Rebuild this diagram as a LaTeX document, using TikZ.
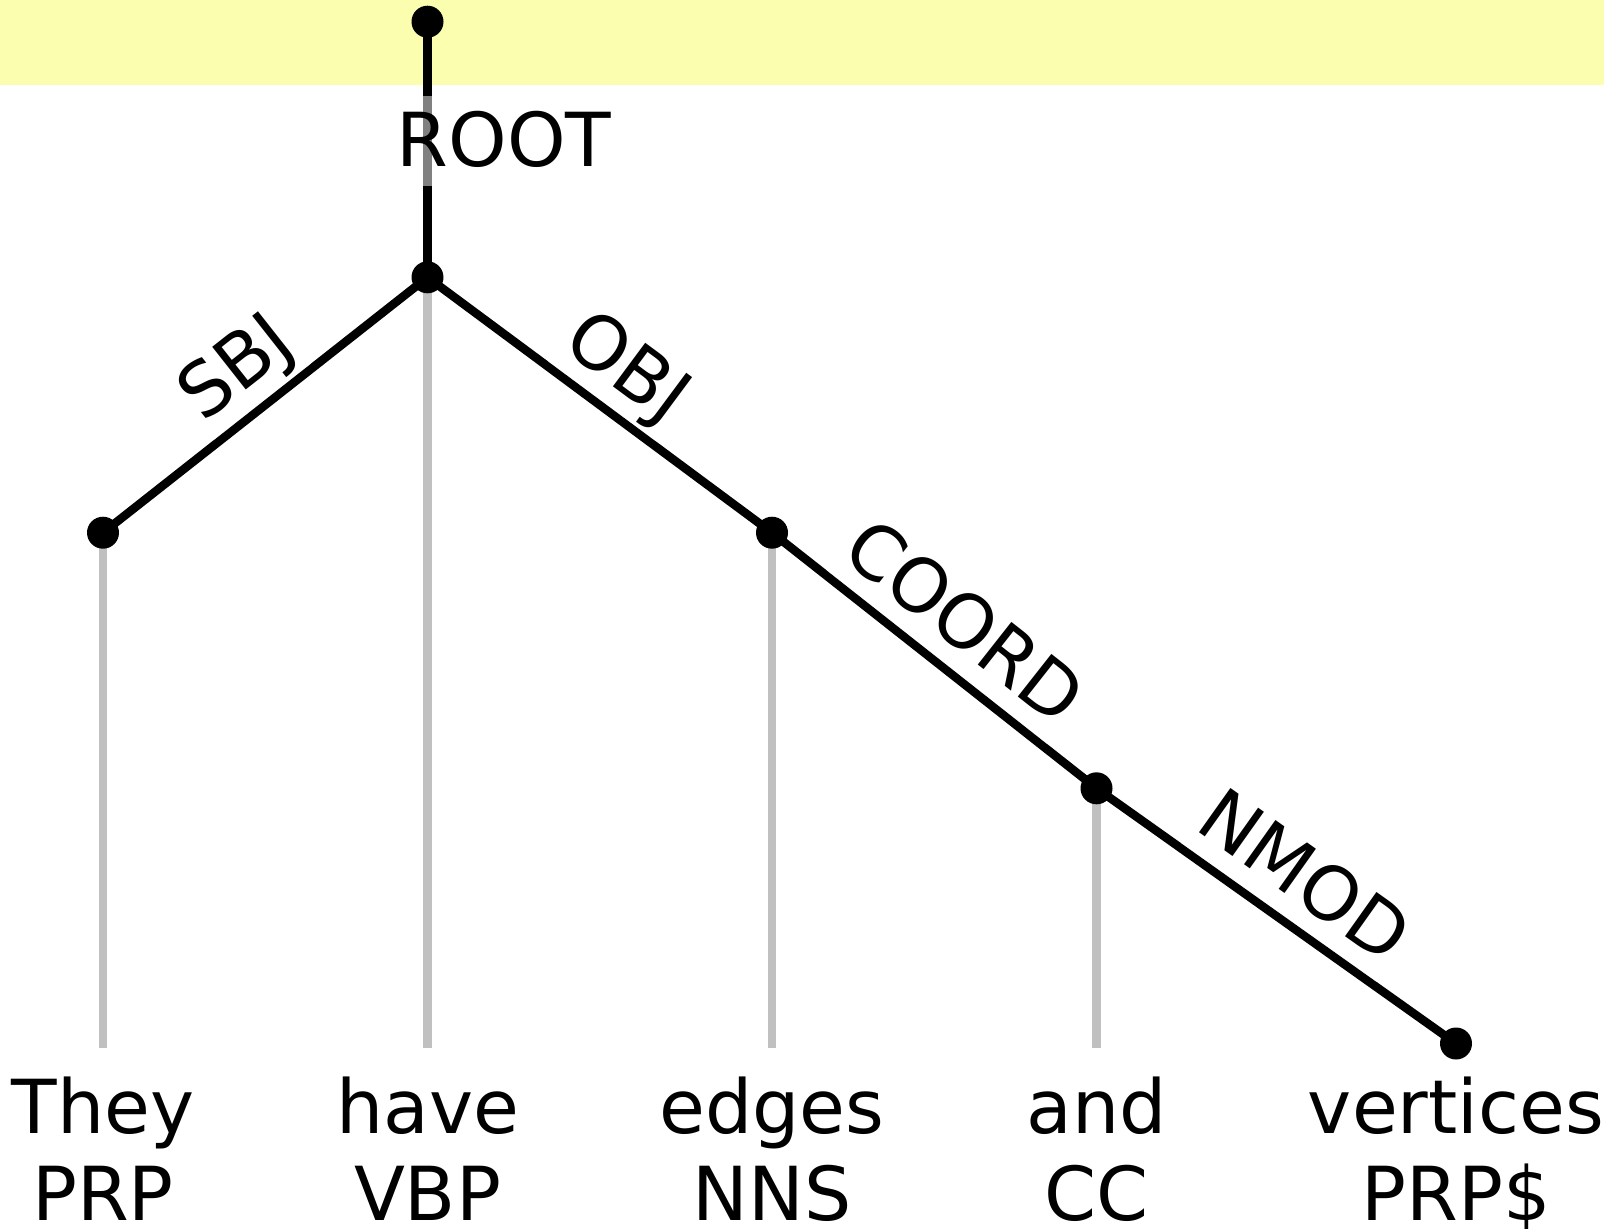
\documentclass[tikz,border=0pt]{standalone}
\usepackage{fontspec}
\setmainfont{DejaVu Sans}
\definecolor{band}{RGB}{250,254,174}
\definecolor{proj}{RGB}{192,192,192}
\begin{document}
\begin{tikzpicture}[x=1pt,y=-1pt,
  dot/.style={circle,fill=black,inner sep=0pt,minimum size=32pt},
  edge/.style={draw=black,line width=8.5pt},
  projline/.style={draw=proj,line width=8.5pt},
  lab/.style={fill=white,fill opacity=0.5,text opacity=1,inner sep=1.5pt,
    text height=69pt,text depth=17.5pt,font=\fontsize{74.5}{88}\selectfont},
  word/.style={anchor=base,inner sep=0pt,font=\fontsize{74.5}{88}\selectfont}]
\fill[band] (0,0) rectangle (1604,85);
\useasboundingbox (0,0) rectangle (1604,1229);
% coordinates
\coordinate (c0) at (427.5,21.7);
\coordinate (c1) at (103,532.7);
\coordinate (c2) at (427.5,277.3);
\coordinate (c3) at (772,532.7);
\coordinate (c4) at (1096.5,788.3);
\coordinate (c5) at (1456,1043.5);
\coordinate (b1) at (103,1048);
\coordinate (b2) at (427.5,1048);
\coordinate (b3) at (772,1048);
\coordinate (b4) at (1096.5,1048);
% projection lines
\draw[projline] (c1) -- (b1);
\draw[projline] (c2) -- (b2);
\draw[projline] (c3) -- (b3);
\draw[projline] (c4) -- (b4);
% edges
\draw[edge] (c0) -- (c2);
\draw[edge] (c1) -- node[lab,sloped,above] (sbj) {SBJ} (c2);
\draw[edge] (c2) -- node[lab,sloped,above] (obj) {OBJ} (c3);
\draw[edge] (c3) -- node[lab,sloped,above] (coord) {COORD} (c4);
\draw[edge] (c4) -- node[lab,sloped,above] (nmod) {NMOD} (c5);
\node[lab,anchor=base] (root) at (504,166.7) {ROOT};
% dots
\node[dot] (d0) at (c0) {};
\node[dot] (d1) at (c1) {};
\node[dot] (d2) at (c2) {};
\node[dot] (d3) at (c3) {};
\node[dot] (d4) at (c4) {};
\node[dot] (d5) at (c5) {};
% words
\node[word] (w1) at (103,1133) {They};
\node[word] (w2) at (427.5,1133) {have};
\node[word] (w3) at (772,1133) {edges};
\node[word] (w4) at (1096.5,1133) {and};
\node[word] (w5) at (1456,1133) {vertices};
\node[word] (t1) at (103,1220) {PRP};
\node[word] (t2) at (427.5,1220) {VBP};
\node[word] (t3) at (772,1220) {NNS};
\node[word] (t4) at (1096.5,1220) {CC};
\node[word] (t5) at (1456,1220) {PRP\$};
\end{tikzpicture}
\end{document}
